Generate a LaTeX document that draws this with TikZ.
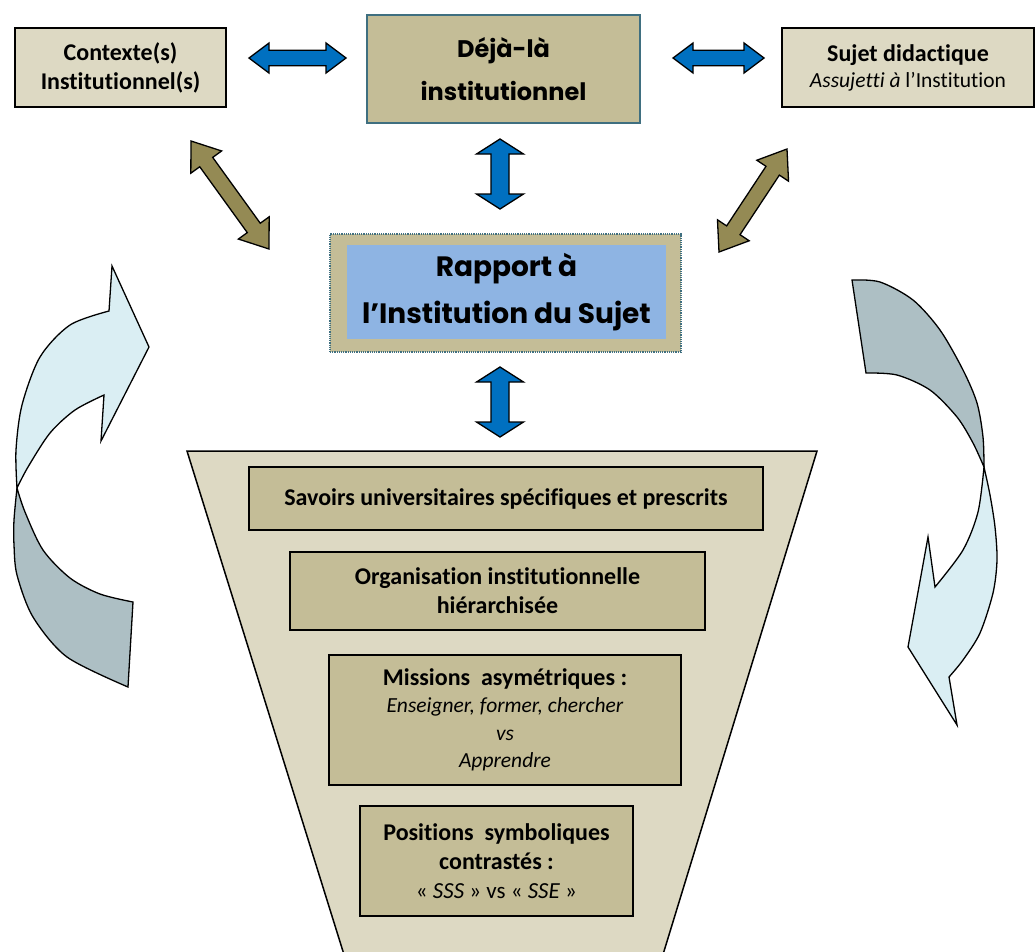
\documentclass[tikz,border=0pt]{standalone}
\usepackage{fontspec}
\setmainfont{Carlito}[Ligatures={TeX,NoCommon}]
\newfontfamily\comicf{Poppins}
\definecolor{tanL}{HTML}{DDD9C3}
\definecolor{tanD}{HTML}{C4BD97}
\definecolor{blueA}{HTML}{0070C0}
\definecolor{oliveA}{HTML}{948A54}
\definecolor{cyanL}{HTML}{DAEEF3}
\definecolor{grayB}{HTML}{ADBFC4}
\definecolor{blueR}{HTML}{8EB4E3}
\definecolor{tealB}{HTML}{3F6F80}
\newcommand\DArrow[8]{%
  \pgfmathsetmacro\dal{veclen(#3-#1,#4-#2)}%
  \pgfmathsetmacro\daa{atan2(-(#4-#2),#3-#1)}%
  \begin{scope}[shift={(#1,#2)},rotate=\daa]
    \filldraw[fill=#8,arrline] (0,0) -- (#5,#6) -- (#5,#7) -- (\dal-#5,#7) -- (\dal-#5,#6) -- (\dal,0)
      -- (\dal-#5,-#6) -- (\dal-#5,-#7) -- (#5,-#7) -- (#5,-#6) -- cycle;
  \end{scope}}
\tikzset{
  lbox/.style={draw=black, line width=1.6pt, fill=tanL, align=center, inner sep=0pt},
  fbox/.style={draw=black, line width=1.6pt, fill=tanD, align=center, inner sep=0pt},
  arrline/.style={draw=black, line width=1.3pt, line join=miter},
  bfont/.style={font={\fontsize{24}{29}\selectfont\bfseries}},
}
\begin{document}
\begin{tikzpicture}[x=1pt,y=-1pt]
\useasboundingbox (0,0) rectangle (1035,951);
\clip (0,0) rectangle (1035,951);

% curved arrows
\filldraw[fill=grayB, arrline] plot[smooth] coordinates {(17,488) (14,520) (14,545) (17,575) (33,617) (67,657) (128,687)}
  -- (133,602) -- plot[smooth] coordinates {(133,602) (100,594) (70,578) (43,550) (25,512) (17,488)} -- cycle;
\filldraw[fill=cyanL, arrline] (149,347) -- (112,266) -- (109,311)
  -- plot[smooth] coordinates {(109,311) (70,325) (40,357) (22,405) (16,450) (17,488)}
  -- plot[smooth] coordinates {(17,488) (28,467) (50,433) (75,410) (104,395)} -- (101,441) -- cycle;

\filldraw[fill=grayB, arrline] plot[smooth] coordinates {(852,280) (880,282) (913,300) (940,330) (963,370) (977,403) (983,437) (984,467)}
  -- plot[smooth] coordinates {(984,467) (973,443) (957,417) (930,390) (897,375) (866,373)} -- cycle;
\filldraw[fill=cyanL, arrline] plot[smooth] coordinates {(984,467) (990,495) (995,527) (997,560) (993,593) (980,633) (963,660) (949,677)}
  -- (957,725) -- (908,647) -- (928,537) -- (935,587)
  -- plot[smooth] coordinates {(935,587) (963,550) (978,512) (984,467)} -- cycle;

% top row
\node[lbox, bfont, minimum width=211pt, minimum height=79pt] (ctx) at (120.5,67.5) {Contexte(s)\\Institutionnel(s)};
\node[draw=tealB, line width=1.3pt, fill=tanD, align=center, inner sep=0pt,
      minimum width=273pt, minimum height=108pt, font={\comicf\fontsize{24}{43}\selectfont\bfseries}]
      (deja) at (503.5,69) {Déjà-là\\institutionnel};
\node[lbox, minimum width=252pt, minimum height=79pt, font={\fontsize{21.5}{26}\selectfont}] (suj) at (908,67.5)
      {{\bfseries\fontsize{24}{26}\selectfont Sujet didactique}\\\textit{Assujetti à} l’Institution};

% rapport
\node[draw=tealB, densely dotted, line width=1.2pt, fill=tanD, minimum width=351pt, minimum height=118pt] (rap) at (505.5,293) {};
\node[fill=blueR, inner sep=0pt, minimum width=319pt, minimum height=94pt, align=center,
      font={\comicf\fontsize{28}{47}\selectfont\bfseries}] (rapi) at (506.5,292) {Rapport à\\l’Institution du Sujet};

% arrows
\DArrow{249}{58}{346}{58}{20}{15}{7.7}{blueA}
\DArrow{673}{58}{764}{58}{20}{15}{7.7}{blueA}
\DArrow{500}{139}{500}{209}{15}{23.5}{9}{blueA}
\DArrow{500}{367}{500}{437}{15}{23.5}{9}{blueA}
\DArrow{191}{141}{269}{249}{26}{19}{8}{oliveA}
\DArrow{787}{149}{719}{252}{26}{19}{8}{oliveA}

% funnel
\filldraw[fill=tanL, draw=black, line width=1.5pt] (187,451) -- (817,451) -- (661,961) -- (346,961) -- cycle;
\node[fbox, bfont, minimum width=514pt, minimum height=63pt] (sav) at (506,498.5) {Savoirs universitaires spécifiques et prescrits};
\node[fbox, bfont, minimum width=415pt, minimum height=78pt] (org) at (497.5,591) {Organisation institutionnelle\\hiérarchisée};
\node[fbox, minimum width=352pt, minimum height=130pt, font={\fontsize{21.5}{27.5}\selectfont}] (mis) at (505,720)
      {{\bfseries\fontsize{24}{27.5}\selectfont Missions\ \ asymétriques :}\\\textit{Enseigner, former, chercher}\\\textit{vs}\\\textit{Apprendre}};
\node[fbox, minimum width=273pt, minimum height=110pt, font={\fontsize{23}{29}\selectfont}] (pos) at (496.5,861)
      {{\bfseries\fontsize{24}{29}\selectfont Positions\ \ symboliques}\\{\bfseries\fontsize{24}{29}\selectfont contrastés :}\\« \textit{SSS} » vs « \textit{SSE} »};
\end{tikzpicture}
\end{document}
